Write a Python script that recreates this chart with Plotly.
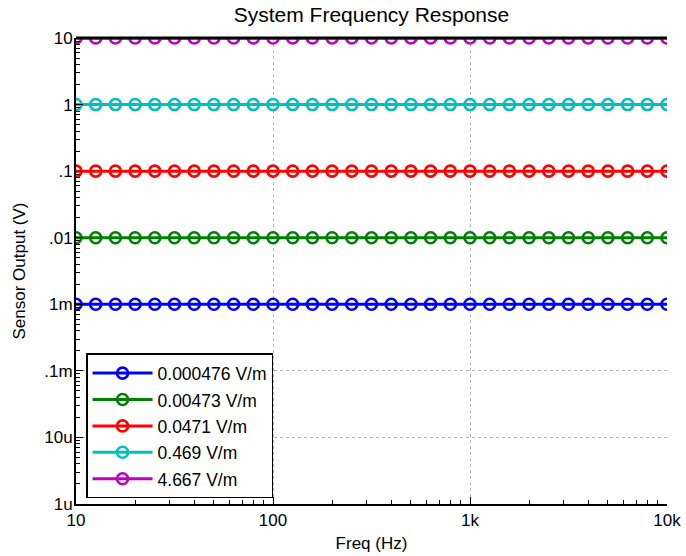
import plotly.graph_objects as go

# Frequencies (Hz), 10 points per decade from 10 Hz to 10 kHz
freq = [10.0, 12.59, 15.85, 19.95, 25.12, 31.62, 39.81, 50.12, 63.10, 79.43,
        100.0, 125.9, 158.5, 199.5, 251.2, 316.2, 398.1, 501.2, 631.0, 794.3,
        1000.0, 1259, 1585, 1995, 2512, 3162, 3981, 5012, 6310, 7943, 10000.0]

series_names = ["0.000476 V/m", "0.00473 V/m", "0.0471 V/m", "0.469 V/m", "4.667 V/m"]
series_levels = [0.001, 0.01, 0.1, 1.0, 10.0]   # sensor output (V), flat across frequency
series_colors = ["#0000FF", "#008000", "#FF0000", "#00BFBF", "#BF00BF"]

y_tickvals = [1e-6, 1e-5, 1e-4, 1e-3, 1e-2, 1e-1, 1, 10]
y_ticktext = ["1u", "10u", ".1m", "1m", ".01", ".1", "1", "10"]
x_tickvals = [10, 100, 1000, 10000]
x_ticktext = ["10", "100", "1k", "10k"]

FONT = "Liberation Sans, Arial, sans-serif"

fig = go.Figure()
for name, level, color in zip(series_names, series_levels, series_colors):
    fig.add_trace(go.Scatter(
        x=freq, y=[level] * len(freq), mode="lines+markers",
        name=f'<span style="font-size:17.5px">{name}</span>',
        line=dict(color=color, width=3),
        marker=dict(symbol="circle-open", size=11, color=color, line=dict(width=2.6, color=color)),
    ))

x_minor = [m * 10 ** d for d in range(1, 4) for m in range(2, 10)]
y_minor = [m * 10.0 ** d for d in range(-6, 1) for m in range(2, 10)]

fig.update_layout(
    width=686, height=556,
    margin=dict(l=76, r=19, t=38, b=52),
    paper_bgcolor="white", plot_bgcolor="white",
    font=dict(family=FONT, size=17, color="black"),
    title=dict(text="System Frequency Response", x=0.5, xref="paper", xanchor="center",
               y=1, yref="container", yanchor="top", pad=dict(t=7),
               font=dict(family=FONT, size=21, color="black")),
    showlegend=True,
    legend=dict(x=0.017, y=0.012, xanchor="left", yanchor="bottom",
                bgcolor="white", bordercolor="black", borderwidth=1.5,
                font=dict(family=FONT, size=18, color="black"),
                itemwidth=60, tracegroupgap=0),
    xaxis=dict(type="log", range=[1, 4], automargin=False,
               tickmode="array", tickvals=x_tickvals, ticktext=x_ticktext,
               ticks="inside", ticklen=7, tickwidth=1, tickcolor="black",
               showline=True, linecolor="black", linewidth=2,
               showgrid=True, gridcolor="#b4b4b4", griddash="dot", gridwidth=1,
               zeroline=False,
               minor=dict(tickmode="array", tickvals=x_minor, ticks="inside", ticklen=4,
                          tickwidth=1, tickcolor="black", showgrid=False),
               title=dict(text="Freq (Hz)", standoff=8, font=dict(size=17)),
               tickfont=dict(size=17)),
    yaxis=dict(type="log", range=[-6, 1], automargin=False,
               tickmode="array", tickvals=y_tickvals, ticktext=y_ticktext,
               ticks="inside", ticklen=7, tickwidth=1, tickcolor="black",
               ticklabelstandoff=-2,
               showline=True, linecolor="black", linewidth=2,
               showgrid=True, gridcolor="#b4b4b4", griddash="dot", gridwidth=1,
               zeroline=False,
               minor=dict(tickmode="array", tickvals=y_minor, ticks="inside", ticklen=4,
                          tickwidth=1, tickcolor="black", showgrid=False),
               title=dict(text="Sensor Output (V)", standoff=14, font=dict(size=17)),
               tickfont=dict(size=17)),
    shapes=[dict(type="line", xref="paper", yref="paper", x0=0, x1=1, y0=1, y1=1,
                 line=dict(color="black", width=3), layer="above")],
)

fig.write_html("out.html", config={"displayModeBar": False},
               post_script="document.body.style.margin='0';")
